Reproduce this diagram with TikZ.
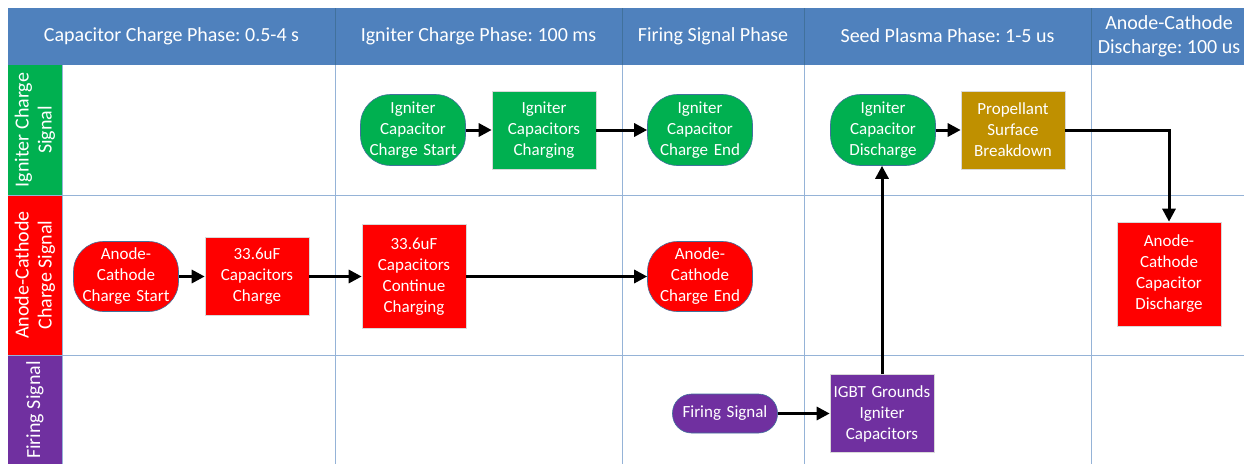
\documentclass[tikz,border=0pt]{standalone}
\usepackage{fontspec}
\setmainfont{Carlito}
\frenchspacing
\usetikzlibrary{arrows.meta}
\definecolor{hdr}{RGB}{79,129,189}
\definecolor{hdrline}{RGB}{65,113,156}
\definecolor{gridc}{RGB}{149,179,215}
\definecolor{cgreen}{RGB}{0,176,80}
\definecolor{cred}{RGB}{255,0,0}
\definecolor{cpurple}{RGB}{112,48,160}
\definecolor{cgold}{RGB}{191,144,0}
\tikzset{
  boxtext/.style={text=white, align=center, inner sep=0pt, font=\fontsize{17}{21}\selectfont},
  proc/.style={boxtext, rectangle, minimum width=104pt, text width=100pt, draw=black!15, line width=0.6pt},
  term/.style={boxtext, rectangle, rounded corners=30pt, minimum width=105pt, minimum height=71pt, text width=100pt, draw=hdrline, line width=0.6pt},
  flow/.style={line width=3pt, -{Triangle[length=13pt,width=13pt]}},
  hdrtext/.style={text=white, align=center, font=\fontsize{20}{24}\selectfont},
  lanetext/.style={text=white, align=center, rotate=90, font=\fontsize{20}{23}\selectfont},
  gridline/.style={draw=gridc, line width=1pt}
}
\begin{document}
\begin{tikzpicture}[x=1pt,y=-1pt]
\useasboundingbox (0,0) rectangle (1244,463);
\clip (0,0) rectangle (1244,463);
\fill[white] (0,0) rectangle (1244,463);
% header
\fill[hdr] (8,8) rectangle (1260,65);
\foreach \x in {335,622,804,1091} \draw[hdrline, line width=1pt] (\x,8) -- (\x,65);
% lane labels
\fill[cgreen] (8,65) rectangle (62,195);
\fill[cred] (8,195) rectangle (62,355);
\fill[cpurple] (8,355) rectangle (62,470);
% grid
\draw[gridline] (8,195) -- (1260,195);
\draw[gridline] (8,355) -- (1260,355);
\draw[gridline] (62,65) -- (62,470);
\foreach \x in {335,622,804,1091} \draw[gridline] (\x,65) -- (\x,470);
% header texts
\node[hdrtext] (h1) at (171.5,36) {Capacitor Charge Phase: 0.5-4 s};
\node[hdrtext] (h2) at (478.5,36) {Igniter Charge Phase: 100 ms};
\node[hdrtext] (h3) at (713,36) {Firing Signal Phase};
\node[hdrtext] (h4) at (947.5,36) {Seed Plasma Phase: 1-5 us};
\node[hdrtext] (h5) at (1169,36) {Anode-Cathode\\Discharge: 100 us};
% lane texts
\node[lanetext] (l1) at (35,130) {Igniter Charge\\Signal};
\node[lanetext] (l2) at (35,275) {Anode-Cathode\\Charge Signal};
\node[lanetext] (l3) at (35,410) {Firing Signal};
% nodes
\node[term, fill=cgreen] (ics) at (413,130) {Igniter\\Capacitor\\Charge Start};
\node[proc, fill=cgreen, minimum height=78pt] (icg) at (544,130) {Igniter\\Capacitors\\Charging};
\node[term, fill=cgreen] (ice) at (700,130) {Igniter\\Capacitor\\Charge End};
\node[term, fill=cgreen] (icd) at (883,130) {Igniter\\Capacitor\\Discharge};
\node[proc, fill=cgold, minimum height=78pt] (psb) at (1013,130) {Propellant\\Surface\\Breakdown};
\node[proc, fill=cred, minimum height=104pt] (acd) at (1169,274) {Anode-\\Cathode\\Capacitor\\Discharge};
\node[term, fill=cred, minimum height=70pt] (acs) at (126,276.5) {Anode-\\Cathode\\Charge Start};
\node[proc, fill=cred, minimum height=78pt] (cc) at (257,276.5) {33.6uF\\Capacitors\\Charge};
\node[proc, fill=cred, minimum height=104pt] (ccc) at (414,276.5) {33.6uF\\Capacitors\\Continue\\Charging};
\node[term, fill=cred, minimum height=70pt] (ace) at (700,276.5) {Anode-\\Cathode\\Charge End};
\node[term, fill=cpurple, minimum height=39pt, rounded corners=19pt] (fs) at (725,413.5) {Firing Signal};
\node[proc, fill=cpurple, minimum height=78pt] (igbt) at (882,413.5) {IGBT Grounds\\Igniter\\Capacitors};
% connectors
\draw[flow] (ics.east) -- (icg.west);
\draw[flow] (icg.east) -- (ice.west);
\draw[flow] (icd.east) -- (psb.west);
\draw[flow] (psb.east) -| (acd.north);
\draw[flow] (acs.east) -- (cc.west);
\draw[flow] (cc.east) -- (ccc.west);
\draw[flow] (ccc.east) -- (ace.west);
\draw[flow] (fs.east) -- (fs.east -| igbt.west);
\draw[flow] (igbt.north) -- (igbt.north |- icd.south);
\end{tikzpicture}
\end{document}
